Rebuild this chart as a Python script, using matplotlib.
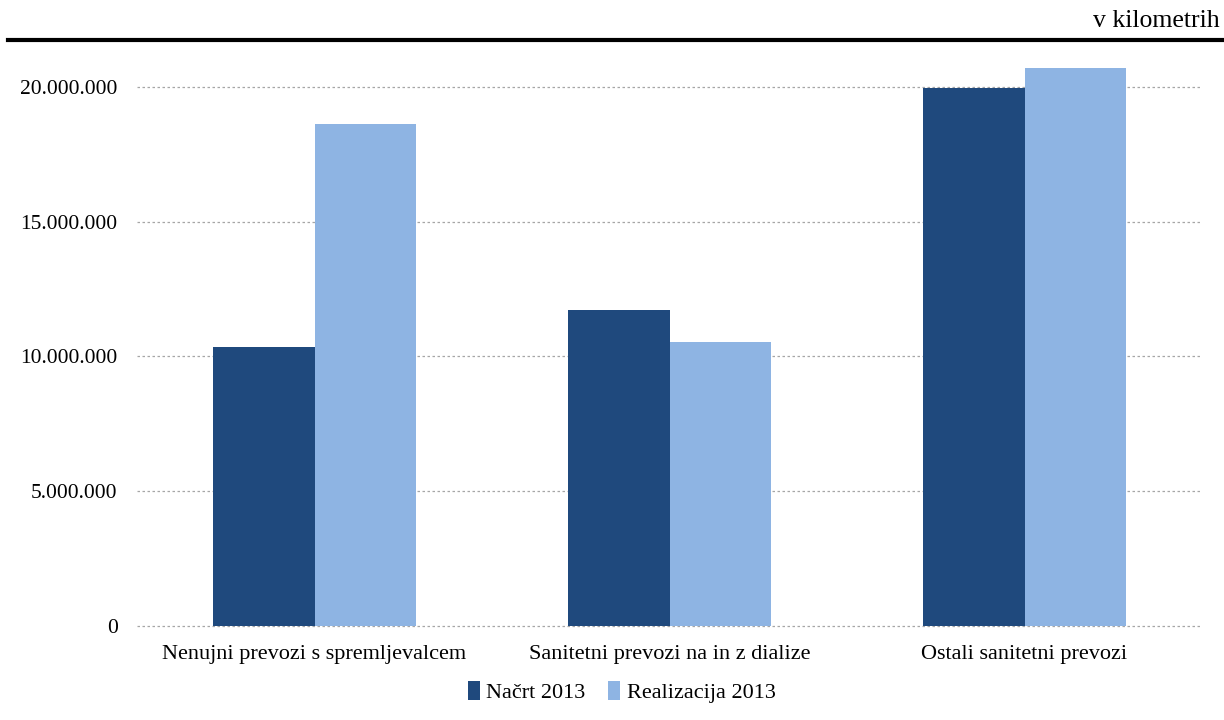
import numpy as np
import matplotlib.pyplot as plt
from matplotlib.ticker import FuncFormatter

# podatki
kategorije = ['Nenujni prevozi s spremljevalcem',
              'Sanitetni prevozi na in z dialize',
              'Ostali sanitetni prevozi']
nacrt_2013 = [10350000, 11730000, 19960000]
realizacija_2013 = [18630000, 10540000, 20700000]

plt.rcParams['font.family'] = ['Liberation Serif', 'DejaVu Serif']

fig = plt.figure(figsize=(12.24, 7.2), dpi=100)
ax = fig.add_axes([137 / 1224, 1 - 626 / 720, (1202 - 137) / 1224, (626 - 33) / 720])

x = np.arange(len(kategorije))
w = 0.285
ax.bar(x - w / 2, nacrt_2013, w, color='#1f497d', label='Načrt 2013', zorder=3)
ax.bar(x + w / 2, realizacija_2013, w, color='#8eb4e3', label='Realizacija 2013', zorder=3)

ax.set_xlim(-0.5, 2.5)
ax.set_ylim(0, 22000000)
ax.set_yticks([0, 5000000, 10000000, 15000000, 20000000])
ax.yaxis.set_major_formatter(FuncFormatter(lambda v, p: f'{int(v):,}'.replace(',', '.')))
ax.set_xticks(x)
ax.set_xticklabels(kategorije)
ax.tick_params(axis='both', length=0, labelsize=15.5, colors='#000000')
ax.tick_params(axis='x', labelsize=16, pad=14)
ax.tick_params(axis='y', pad=14)
ax.grid(axis='y', color='#a6a6a6', linestyle=(0, (2, 2)), linewidth=0.9, zorder=0)
for gl in ax.get_ygridlines():
    gl.set_clip_on(False)
for s in ax.spines.values():
    s.set_visible(False)

# crta na vrhu in enota
fig.add_artist(plt.Line2D([8 / 1224, 1], [1 - 40 / 720, 1 - 40 / 720], color='black', linewidth=3))
fig.text(1220 / 1224, 1 - 21 / 720, 'v kilometrih', ha='right', va='center', fontsize=18.5)

leg = ax.legend(loc='center', bbox_to_anchor=(0.455, -0.112), ncol=2, frameon=False,
                fontsize=16, handlelength=0.55, handleheight=0.9, handletextpad=0.3,
                columnspacing=1.0)

plt.savefig('out.png', dpi=100)
